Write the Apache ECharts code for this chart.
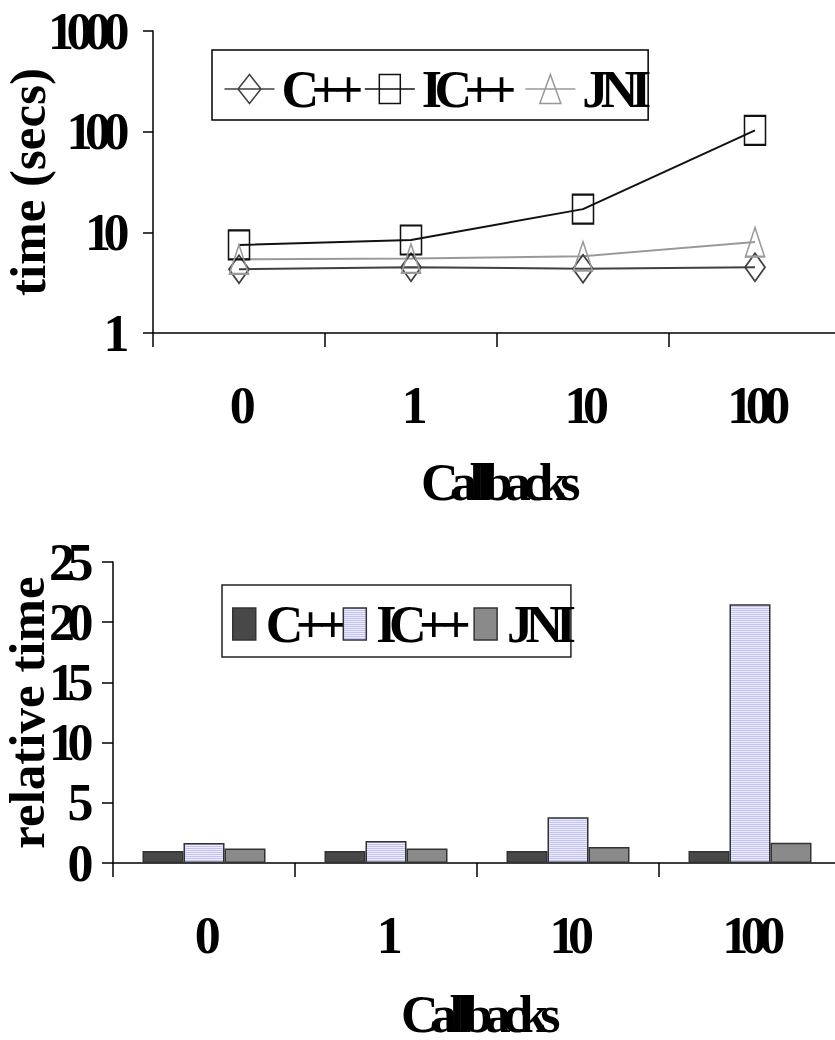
<!DOCTYPE html>
<html>
<head>
<meta charset="utf-8">
<script src="https://cdn.jsdelivr.net/npm/echarts@6/dist/echarts.min.js"></script>
<style>
html,body{margin:0;padding:0;background:#fff;}
#chartTop{position:absolute;left:0;top:0;width:835px;height:520px;}
#chartBottom{position:absolute;left:0;top:520px;width:835px;height:520px;}
#chartTop text[style*="Times"], #chartBottom text[style*="Times"]{letter-spacing:-7.5px;}
</style>
</head>
<body>
<div id="chartTop"></div>
<div id="chartBottom"></div>
<script>
// ---- data ----
const categories = ['0', '1', '10', '100'];
const seriesNames = ['C++', 'IC++', 'JNI'];
// top chart: time (secs), log scale
const timeCpp  = [4.3, 4.5, 4.35, 4.5];
const timeICpp = [7.5, 8.4, 17, 103];
const timeJNI  = [5.4, 5.5, 5.8, 8.0];
const timeTicks = ['1', '10', '100', '1000'];
// bottom chart: relative time
const relCpp  = [1, 1, 1, 1];
const relICpp = [1.67, 1.83, 3.8, 21.5];
const relJNI  = [1.2, 1.2, 1.33, 1.68];
const relTicks = ['0', '5', '10', '15', '20', '25'];

// ---- styles ----
const F = 'Liberation Serif, Times';
const TF = 'Liberation Serif';
const txt = {fontFamily: F, fontWeight: 'bold', fontSize: 52, color: '#000'};
const nameTxt = Object.assign({}, txt, {lineHeight: 36});
const ttl = {fontFamily: TF, fontWeight: 'bold', fontSize: 51, color: '#000', lineHeight: 44};
const axisLine = {show: true, lineStyle: {color: '#000', width: 1.5}};

// stripe pattern for IC++ bars
const pc = document.createElement('canvas');
pc.width = 2; pc.height = 2;
const pctx = pc.getContext('2d');
pctx.fillStyle = '#c2c2f4'; pctx.fillRect(0, 0, 2, 1);
pctx.fillStyle = '#ececfd'; pctx.fillRect(0, 1, 2, 1);
const stripe = {image: pc, repeat: 'repeat', imageWidth: 2, imageHeight: 2};

const lineColors = ['#404040', '#111111', '#999999'];
const symbols = ['diamond', 'rect', 'triangle'];
const symbolSizes = [[20, 28], [21, 29], [19, 29]];
const icons = [
  'path://M0,14.5L50,14.5M25,0L36.5,14.5L25,29L13.5,14.5Z',
  'path://M0,14.5L50,14.5M14.5,0L35.5,0L35.5,29L14.5,29Z',
  'path://M0,14.5L50,14.5M25,0L35.5,29L14.5,29Z'
];
const timeData = [timeCpp, timeICpp, timeJNI];

// ---- top chart ----
const chartTop = echarts.init(document.getElementById('chartTop'), null, {renderer: 'svg'});
chartTop.setOption({
  animation: false,
  grid: {left: 153, top: 31, width: 688, height: 302, outerBoundsMode: 'none'},
  legend: {
    left: 212, top: 50,
    itemWidth: 50, itemHeight: 29, itemGap: -16,
    padding: [13, -18, 5, 10],
    borderColor: '#000', borderWidth: 1.5, backgroundColor: '#fff',
    selectedMode: false,
    textStyle: Object.assign({}, txt, {padding: [0, 0, 0, 2]}),
    data: seriesNames.map((n, i) => ({
      name: n, icon: icons[i],
      itemStyle: {color: 'none', borderColor: lineColors[i], borderWidth: 1.5}
    }))
  },
  xAxis: {
    type: 'category', data: categories,
    axisLine: axisLine,
    axisTick: {show: true, length: 14, lineStyle: {color: '#000', width: 1.5}},
    axisLabel: Object.assign({}, txt, {margin: 46, interval: 0}),
    name: 'Callbacks', nameLocation: 'middle', nameGap: 131,
    nameTextStyle: nameTxt, nameMoveOverlap: false
  },
  yAxis: {
    type: 'log', logBase: 10, min: 1, max: 1000,
    axisLine: axisLine,
    axisTick: {show: true, length: 10, lineStyle: {color: '#000', width: 1.5}},
    splitLine: {show: false},
    axisLabel: Object.assign({}, txt, {
      margin: 31,
      formatter: v => timeTicks[Math.round(Math.log10(v))]
    }),
    name: 'time (secs)', nameLocation: 'middle', nameGap: 103, nameRotate: 90,
    nameTextStyle: ttl, nameMoveOverlap: false
  },
  series: seriesNames.map((n, i) => ({
    name: n, type: 'line', data: timeData[i],
    symbol: symbols[i], symbolSize: symbolSizes[i],
    lineStyle: {color: lineColors[i], width: 2},
    itemStyle: {color: 'none', borderColor: lineColors[i], borderWidth: 1.8},
    emphasis: {disabled: true}, silent: true
  }))
});

// ---- bottom chart ----
const barColors = ['#484848', stripe, '#8a8a8a'];
const relData = [relCpp, relICpp, relJNI];
const chartBottom = echarts.init(document.getElementById('chartBottom'), null, {renderer: 'svg'});
chartBottom.setOption({
  animation: false,
  grid: {left: 113, top: 42, width: 728, height: 301, outerBoundsMode: 'none'},
  legend: {
    left: 222, top: 65,
    itemWidth: 23, itemHeight: 32, itemGap: -20,
    padding: [13, -20, 7, 10],
    borderColor: '#222', borderWidth: 1.5, backgroundColor: '#fff',
    selectedMode: false,
    textStyle: Object.assign({}, txt, {padding: [0, 0, 0, 5]}),
    data: seriesNames.map((n, i) => ({
      name: n, icon: 'rect',
      itemStyle: {color: barColors[i], borderColor: '#333', borderWidth: 1.5}
    }))
  },
  xAxis: {
    type: 'category', data: categories,
    axisLine: axisLine,
    axisTick: {show: true, length: 14, lineStyle: {color: '#000', width: 1.5}},
    axisLabel: Object.assign({}, txt, {margin: 46, interval: 0}),
    name: 'Callbacks', nameLocation: 'middle', nameGap: 133,
    nameTextStyle: nameTxt, nameMoveOverlap: false
  },
  yAxis: {
    type: 'value', min: 0, max: 25, interval: 5,
    axisLine: axisLine,
    axisTick: {show: true, length: 11, lineStyle: {color: '#000', width: 1.5}},
    splitLine: {show: false},
    axisLabel: Object.assign({}, txt, {
      margin: 27,
      formatter: v => relTicks[Math.round(v / 5)]
    }),
    name: 'relative time', nameLocation: 'middle', nameGap: 64, nameRotate: 90,
    nameTextStyle: ttl, nameMoveOverlap: false
  },
  series: seriesNames.map((n, i) => ({
    name: n, type: 'bar', data: relData[i],
    barWidth: 41, barGap: '0%',
    itemStyle: {color: barColors[i], borderColor: '#333', borderWidth: 1.5},
    emphasis: {disabled: true}, silent: true
  }))
});
</script>
</body>
</html>
